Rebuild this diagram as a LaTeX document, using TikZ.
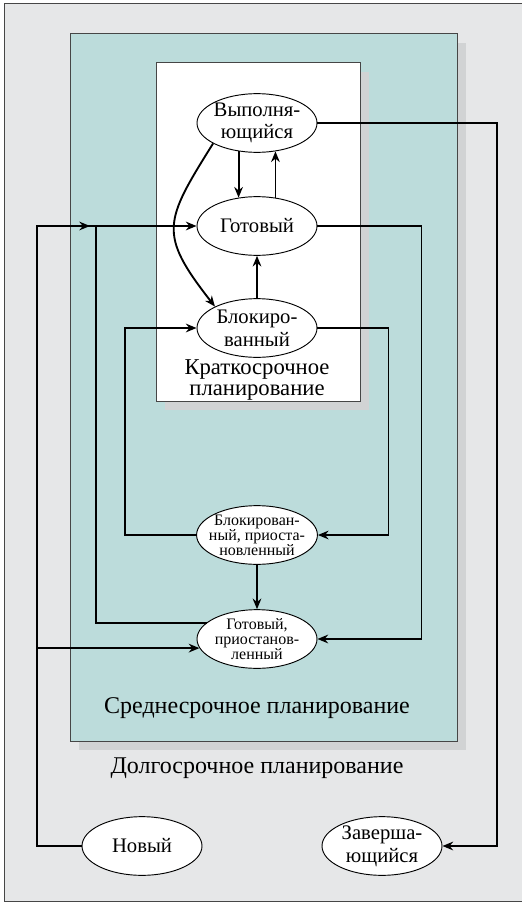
\documentclass[tikz,border=0pt]{standalone}
\usepackage{fontspec}
\setmainfont{Liberation Serif}
\usepackage{xcolor}
\usepackage{tikz}
\usetikzlibrary{positioning,arrows.meta,shapes.geometric}

\definecolor{outergrey}{RGB}{230,231,232}
\definecolor{midteal}{RGB}{188,220,219}
\definecolor{shadowgrey}{RGB}{209,211,212}
\definecolor{edgegrey}{RGB}{70,70,70}

\begin{document}
\begin{tikzpicture}[x=0.75pt, y=-0.75pt, >={Stealth[length=8pt,width=6.5pt]},
		state/.style={ellipse, draw, line width=0.7pt, fill=white, minimum width=90pt, minimum height=44pt,
			inner xsep=-4pt, inner ysep=-3pt, align=center, font=\fontsize{15.5}{17}\selectfont},
		substate/.style={state, font=\fontsize{12}{11.2}\selectfont},
		flow/.style={line width=1.4pt},
		panel/.style={draw=edgegrey, line width=0.75pt}]
		\useasboundingbox (0,0) rectangle (521,906);
		
		% planning levels
		\draw[panel, fill=outergrey] (4,4) rectangle (530,901);
		\fill[shadowgrey] (79,43) rectangle (466,750);
		\draw[panel, fill=midteal] (70,34) rectangle (457,741);
		\fill[shadowgrey] (165,72) rectangle (369,410);
		\draw[panel, fill=white] (156,63) rectangle (360,401);
		
		\node[align=center, font=\fontsize{17}{15.5}\selectfont] (shortlbl) at (257,380) {Краткосрочное\\планирование};
		\node[font=\fontsize{18}{18}\selectfont] (midlbl) at (257,708) {Среднесрочное планирование};
		\node[font=\fontsize{18}{18}\selectfont] (longlbl) at (257,768) {Долгосрочное планирование};
		
		% states
		\node[state] (run) at (257,123) {Выполня-\\ющийся};
		\node[state] (ready) at (257,226) {Готовый};
		\node[state] (blocked) at (257,328) {Блокиро-\\ванный};
		\node[substate] (bsusp) at (257,535) {Блокирован-\\ный, приоста-\\новленный};
		\node[substate] (rsusp) at (257,639) {Готовый,\\приостанов-\\ленный};
		\node[state] (new) at (142,846) {Новый};
		\node[state] (exit) at (382,846) {Заверша-\\ющийся};
		
		\coordinate (lft) at (37,226);
		\coordinate (jn) at (96,226);
		
		% short term
		\draw[flow, ->] (run.237) -- (ready.123);
		\draw[flow, ->] (ready.57) -- (run.303);
		\draw[flow, ->] (blocked.north) -- (ready.south);
		\draw[flow, ->] (run.205) to[out=238, in=128, looseness=1.45] (blocked.153);
		
		% medium term
		\draw[flow, ->] (rsusp.162) -| (jn) -- (ready.west);
		\draw[flow, ->] (ready.east) -- ++(104,0) |- (rsusp.east);
		\draw[flow, ->] (blocked.east) -- ++(71,0) |- (bsusp.east);
		\draw[flow, ->] (bsusp.west) -- ++(-71,0) |- (blocked.west);
		\draw[flow, ->] (bsusp.south) -- (rsusp.north);
		
		% long term
		\draw[flow] (new.west) -| (lft) -- (jn);
		\draw[flow, ->] (lft) -- ([xshift=-4.5pt]jn);
		\draw[flow, ->] (lft |- rsusp.189) -- (rsusp.189);
		\draw[flow, ->] (run.east) -- (497,123) |- (exit.east);
	\end{tikzpicture}
\end{document}
